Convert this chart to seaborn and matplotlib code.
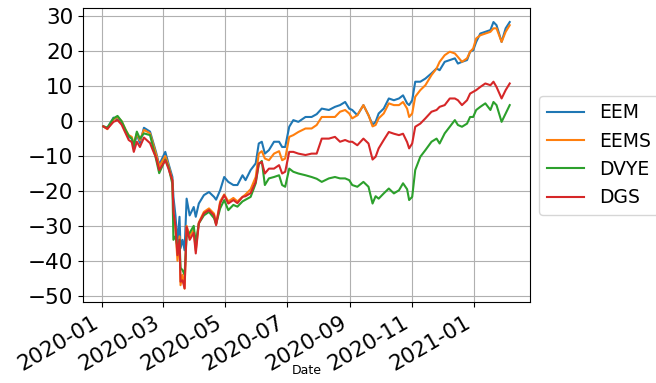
import matplotlib
matplotlib.use("Agg")
import matplotlib.pyplot as plt
import matplotlib.dates as mdates
import pandas as pd
import seaborn as sns

dates = [
    "2020-01-02", "2020-01-06", "2020-01-12", "2020-01-16", "2020-01-20", "2020-01-24",
    "2020-01-27", "2020-01-30", "2020-02-01", "2020-02-04", "2020-02-07", "2020-02-11",
    "2020-02-17", "2020-02-20", "2020-02-23", "2020-02-26", "2020-03-03", "2020-03-06",
    "2020-03-10", "2020-03-11", "2020-03-13", "2020-03-15", "2020-03-17", "2020-03-18",
    "2020-03-20", "2020-03-22", "2020-03-24", "2020-03-27", "2020-03-31", "2020-04-02",
    "2020-04-05", "2020-04-10", "2020-04-15", "2020-04-20", "2020-04-22", "2020-04-26",
    "2020-04-30", "2020-05-04", "2020-05-09", "2020-05-13", "2020-05-18", "2020-05-21",
    "2020-05-26", "2020-05-31", "2020-06-03", "2020-06-06", "2020-06-09", "2020-06-13",
    "2020-06-18", "2020-06-23", "2020-06-26", "2020-06-29", "2020-07-03", "2020-07-07",
    "2020-07-12", "2020-07-19", "2020-07-25", "2020-07-30", "2020-08-04", "2020-08-11",
    "2020-08-17", "2020-08-22", "2020-08-27", "2020-08-31", "2020-09-03", "2020-09-08",
    "2020-09-14", "2020-09-19", "2020-09-23", "2020-09-26", "2020-09-29", "2020-10-04",
    "2020-10-09", "2020-10-14", "2020-10-19", "2020-10-23", "2020-10-27", "2020-10-29",
    "2020-11-01", "2020-11-04", "2020-11-09", "2020-11-14", "2020-11-20", "2020-11-25",
    "2020-11-28", "2020-12-03", "2020-12-08", "2020-12-13", "2020-12-16", "2020-12-20",
    "2020-12-25", "2020-12-28", "2020-12-31", "2021-01-03", "2021-01-07", "2021-01-12",
    "2021-01-17", "2021-01-20", "2021-01-23", "2021-01-28", "2021-02-01", "2021-02-05",
]

eem = [
    -1.5, -2.0, 1.0, 0.5, -0.5, -3.0, -4.5, -5.0, -7.4, -3.7, -6.3, -1.9,
    -3.0, -6.0, -9.0, -12.5, -8.8, -12.0, -16.0, -21.7, -27.0, -35.0, -27.4, -36.4,
    -34.0, -37.0, -22.2, -27.0, -24.6, -27.4, -23.6, -21.2, -20.3, -21.7, -22.5, -19.8,
    -16.0, -17.4, -18.3, -18.3, -15.5, -16.9, -14.0, -12.1, -6.4, -5.9, -9.3, -8.3,
    -5.9, -5.9, -7.4, -7.4, -1.6, 0.3, -0.2, 1.2, 1.2, 2.0, 3.6, 3.2,
    4.1, 4.6, 5.5, 3.6, 3.2, 1.7, 4.6, 1.7, -1.0, -0.2, 2.2, 3.6,
    6.5, 6.0, 6.5, 7.4, 5.1, 4.6, 6.0, 11.3, 11.3, 12.2, 13.7, 15.1,
    14.6, 17.0, 17.5, 18.0, 16.5, 17.0, 17.5, 19.9, 20.3, 22.7, 25.1, 25.6,
    26.1, 28.4, 27.5, 22.7, 26.6, 28.4,
]

eems = [
    -1.5, -2.3, 0.5, 1.2, 0.0, -2.5, -4.0, -4.5, -6.5, -3.5, -5.5, -2.5,
    -3.5, -6.5, -9.5, -13.0, -10.0, -12.5, -17.0, -26.0, -31.0, -40.0, -33.0, -47.0,
    -44.0, -48.0, -30.0, -33.0, -31.0, -37.0, -29.0, -26.0, -25.0, -26.5, -29.5, -23.0,
    -21.0, -23.0, -22.0, -23.0, -21.7, -21.0, -19.5, -16.0, -9.3, -8.6, -10.7, -11.2,
    -9.3, -8.6, -11.2, -10.7, -4.5, -4.0, -3.1, -2.1, -2.1, -1.1, 1.2, 1.2,
    1.2, 2.7, 3.2, 2.2, 0.8, 1.7, 4.6, 1.7, -1.5, -1.1, 0.8, 2.2,
    5.1, 4.6, 4.6, 5.5, 3.6, 1.2, 2.2, 7.0, 8.9, 10.3, 13.2, 15.1,
    17.0, 18.9, 19.9, 19.4, 18.4, 17.0, 18.0, 19.9, 20.8, 23.7, 24.6, 25.1,
    25.6, 26.6, 26.6, 22.7, 25.6, 27.5,
]

dvye = [
    -1.5, -1.8, 0.8, 1.5, 0.0, -2.5, -4.2, -5.0, -7.0, -3.0, -5.0, -3.5,
    -4.0, -7.5, -11.0, -14.9, -11.0, -13.0, -18.0, -34.0, -33.0, -36.0, -34.0, -42.0,
    -42.7, -44.0, -33.0, -32.0, -30.0, -35.0, -29.3, -27.0, -26.0, -27.8, -29.5, -25.0,
    -22.6, -25.5, -24.0, -24.5, -23.0, -22.5, -21.7, -17.8, -12.4, -11.4, -18.3, -16.4,
    -16.0, -15.5, -18.3, -18.8, -13.6, -14.5, -15.0, -15.5, -16.0, -16.5, -17.4, -16.4,
    -16.0, -16.4, -16.4, -16.9, -18.3, -18.8, -17.4, -18.8, -23.6, -21.5, -22.2, -20.7,
    -19.3, -20.7, -19.8, -17.8, -19.5, -22.6, -21.7, -14.0, -10.2, -8.3, -5.9, -5.0,
    -6.4, -3.5, -1.6, 0.3, -1.1, -1.6, -0.7, 1.2, 1.2, 3.2, 4.1, 5.1,
    3.2, 5.5, 4.6, -0.2, 2.2, 4.6,
]

dgs = [
    -1.5, -2.2, -0.2, 0.3, -1.0, -3.5, -5.4, -6.0, -8.8, -5.9, -7.4, -4.7,
    -6.3, -8.5, -10.5, -14.0, -11.2, -13.5, -17.0, -26.0, -30.0, -38.4, -34.0, -46.0,
    -45.6, -47.9, -30.3, -34.0, -32.0, -37.9, -29.3, -26.4, -25.5, -27.0, -29.8, -23.5,
    -21.2, -23.6, -22.6, -23.5, -21.7, -21.5, -20.6, -17.4, -12.1, -11.7, -15.0, -13.6,
    -13.6, -12.6, -15.0, -14.5, -8.8, -8.8, -9.3, -9.7, -9.3, -9.3, -5.0, -5.0,
    -4.5, -5.9, -5.4, -5.9, -5.9, -6.9, -5.0, -6.4, -11.0, -10.2, -7.8, -5.4,
    -3.1, -3.6, -4.0, -3.6, -6.0, -7.8, -6.4, -1.6, -0.7, 0.8, 2.7, 3.2,
    4.1, 4.6, 6.5, 6.5, 6.0, 4.6, 6.0, 7.9, 8.4, 8.9, 9.8, 10.8,
    10.3, 11.3, 9.8, 6.5, 8.9, 10.8,
]

series_names = ["EEM", "EEMS", "DVYE", "DGS"]

df = pd.DataFrame({"Date": pd.to_datetime(dates), "EEM": eem, "EEMS": eems,
                   "DVYE": dvye, "DGS": dgs})
long = df.melt(id_vars="Date", value_vars=series_names, var_name="ticker", value_name="value")

fig = plt.figure(figsize=(6.56, 3.83), dpi=100)
ax = fig.add_axes([0.1265, 0.2107, 0.808 - 0.1265, 0.978 - 0.2107])

sns.lineplot(data=long, x="Date", y="value", hue="ticker", hue_order=series_names,
             palette=["#1f77b4", "#ff7f0e", "#2ca02c", "#d62728"], linewidth=1.5, ax=ax)

ax.grid(True, color="#b0b0b0", linewidth=0.8)
ax.set_axisbelow(True)
ax.xaxis.set_major_locator(mdates.MonthLocator(bymonth=[1, 3, 5, 7, 9, 11]))
ax.xaxis.set_major_formatter(mdates.DateFormatter("%Y-%m"))
ax.tick_params(axis="both", labelsize=15.5)
for lbl in ax.get_xticklabels():
    lbl.set_rotation(30)
    lbl.set_ha("right")
ax.set_xlabel("Date", fontsize=9)
ax.xaxis.set_label_coords(0.5, -0.21)
ax.set_ylabel("")
ax.set_yticks([30, 20, 10, 0, -10, -20, -30, -40, -50])
ax.set_ylim(-51.9, 32.3)
ax.margins(x=0.05)

ax.legend(loc="center left", bbox_to_anchor=(1.0, 0.5), fontsize=13.5, frameon=True)

fig.savefig("out.png", dpi=100)
